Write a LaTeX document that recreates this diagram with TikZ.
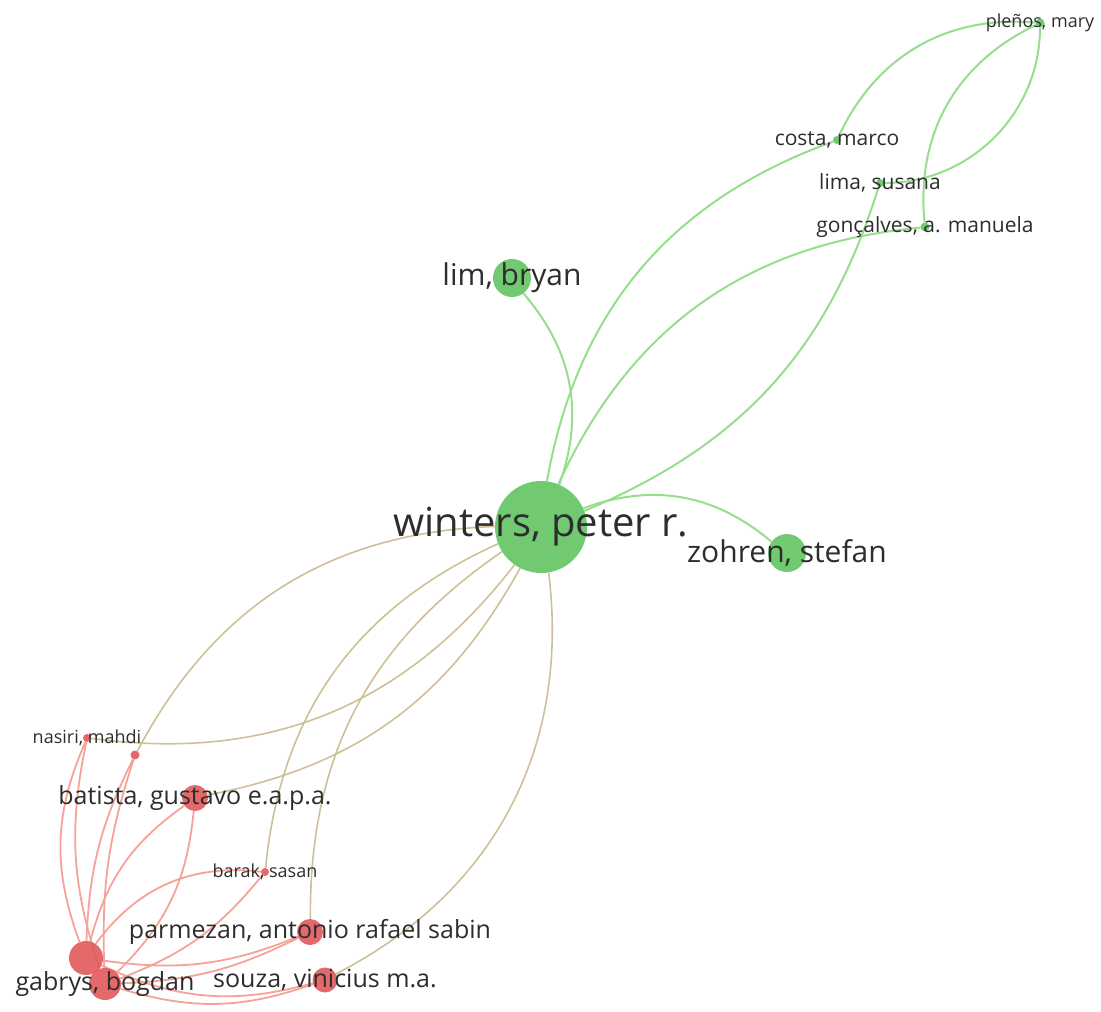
\documentclass[tikz,border=0pt]{standalone}
\usepackage{fontspec}
\setmainfont{Open Sans}
\usetikzlibrary{backgrounds}

\definecolor{grnode}{RGB}{98,196,98}
\definecolor{rdnode}{RGB}{226,88,90}
\definecolor{grlink}{RGB}{150,222,140}
\definecolor{rdlink}{RGB}{246,162,152}
\definecolor{mixlink}{RGB}{206,192,150}
\definecolor{txt}{RGB}{45,45,45}

\begin{document}
\begin{tikzpicture}[x=1pt,y=1pt,
  main node/.style={circle,inner sep=0pt,draw=none,fill opacity=0.9},
  green node/.style={main node,fill=grnode},
  red node/.style={main node,fill=rdnode},
  every label/.style={text=txt,inner sep=0pt},
  huge lbl/.style={font=\fontsize{40}{46}\selectfont},
  large lbl/.style={font=\fontsize{30}{34}\selectfont},
  mid lbl/.style={font=\fontsize{25}{29}\selectfont},
  small lbl/.style={font=\fontsize{21}{24}\selectfont},
  tiny lbl/.style={font=\fontsize{18}{21}\selectfont},
  link/.style={line width=2pt}]

  \useasboundingbox (0,0) rectangle (1101,-1012);

  % green cluster
  \node[green node,minimum size=92,label={[huge lbl]center:{winters, peter r.}}] (1) at (541,-527) {};
  \node[green node,minimum size=38,label={[large lbl]center:{lim, bryan}}] (2) at (512,-278) {};
  \node[green node,minimum size=38,label={[large lbl]center:{zohren, stefan}}] (3) at (787,-553) {};
  \node[green node,minimum size=8,label={[small lbl]center:{costa, marco}}] (4) at (837,-140) {};
  \node[green node,minimum size=8,label={[small lbl]center:{lima, susana}}] (5) at (880,-183) {};
  \node[green node,minimum size=9,label={[small lbl]center:{gonçalves, a. manuela}}] (6) at (925,-227) {};
  \node[green node,minimum size=9,label={[tiny lbl]center:{pleños, mary}}] (7) at (1040,-23) {};

  % red cluster
  \node[red node,minimum size=8,label={[tiny lbl]center:{nasiri, mahdi}}] (8) at (87,-738) {};
  \node[red node,minimum size=9] (9) at (135,-755) {};
  \node[red node,minimum size=26,label={[mid lbl]center:{batista, gustavo e.a.p.a.}}] (10) at (195,-798) {};
  \node[red node,minimum size=8,label={[tiny lbl]center:{barak, sasan}}] (11) at (265,-872) {};
  \node[red node,minimum size=26,label={[mid lbl]center:{parmezan, antonio rafael sabin}}] (12) at (310,-932) {};
  \node[red node,minimum size=34] (13) at (86,-958) {};
  \node[red node,minimum size=32,label={[mid lbl]center:{gabrys, bogdan}}] (14) at (105,-984) {};
  \node[red node,minimum size=25,label={[mid lbl]center:{souza, vinicius m.a.}}] (15) at (325,-980) {};

  \begin{scope}[on background layer]
  \path[link,draw=grlink]
  (2) edge [bend left=30] (1)
  (1) edge [bend left=30] (3)
    edge [bend left=30] (4)
    edge [bend right=25] (5)
    edge [bend left=30] (6)
  (4) edge [bend left=35] (7)
  (5) edge [bend right=45] (7)
  (6) edge [bend left=35] (7);

  \path[link,line width=1.6pt,draw=mixlink]
  (1) edge [bend right=30] (9)
    edge [bend left=30] (8)
    edge [bend left=25] (10)
    edge [bend right=30] (11)
    edge [bend right=28] (12)
    edge [bend left=35] (15);

  \path[link,line width=1.8pt,draw=rdlink]
  (8) edge [bend right=22] (13)
    edge [bend right=15] (14)
  (9) edge [bend right=12] (13)
    edge [bend right=10] (14)
  (10) edge [bend right=20] (13)
    edge [bend left=20] (14)
  (11) edge [bend right=30] (13)
    edge [bend left=15] (14)
  (13) edge [bend right=15] (12)
    edge [bend right=20] (15)
  (14) edge [bend right=12] (12)
    edge [bend right=18] (15);
  \end{scope}

\end{tikzpicture}
\end{document}
